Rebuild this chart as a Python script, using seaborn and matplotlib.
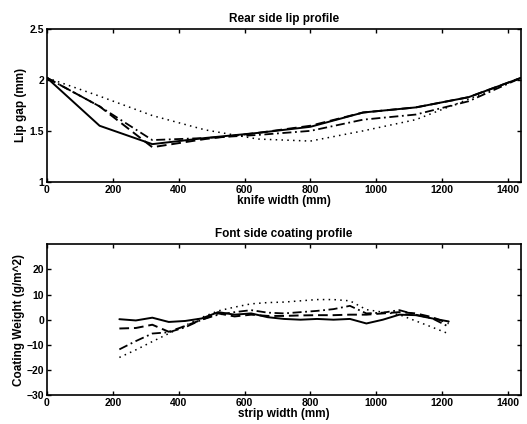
import matplotlib
matplotlib.use("Agg")
import matplotlib.pyplot as plt
import seaborn as sns

# knife (lip) profile, mm across the die
knife_x = [0, 160, 320, 480, 640, 800, 960, 1120, 1280, 1440]
lip_solid = [2.02, 1.55, 1.37, 1.43, 1.48, 1.54, 1.68, 1.73, 1.83, 2.02]
lip_dashed = [2.02, 1.74, 1.34, 1.42, 1.48, 1.55, 1.68, 1.73, 1.83, 2.02]
lip_dashdot = [2.02, 1.74, 1.41, 1.43, 1.46, 1.50, 1.61, 1.66, 1.79, 2.02]
lip_dotted = [2.02, 1.84, 1.65, 1.51, 1.42, 1.40, 1.50, 1.61, 1.81, 2.02]

# coating weight across the strip
strip_x = [220, 270, 320, 370, 420, 470, 520, 570, 620, 670, 720,
           770, 820, 870, 920, 970, 1020, 1070, 1120, 1170, 1220]
cw_solid = [0.2, -0.3, 0.8, -0.9, -0.5, 0.5, 3.0, 2.0, 2.5, 1.0, 0.3,
            0.0, 0.3, 0.0, 0.3, -1.5, 0.0, 2.0, 1.8, 0.5, -0.7]
cw_dashed = [-3.5, -3.3, -2.0, -4.8, -2.5, 0.0, 2.5, 1.3, 2.0, 1.5, 1.5,
             1.7, 1.8, 1.8, 2.0, 2.0, 2.5, 3.0, 2.5, 1.0, -1.5]
cw_dashdot = [-11.8, -8.5, -5.5, -5.0, -3.0, 0.0, 2.0, 3.0, 3.8, 2.8, 2.5,
              3.0, 3.5, 4.2, 5.5, 2.5, 2.8, 3.8, 2.0, 0.5, -2.8]
cw_dotted = [-15.0, -12.0, -8.7, -5.5, -2.3, 0.9, 3.5, 5.0, 6.3, 6.8, 7.0,
             7.5, 8.0, 8.0, 7.5, 4.0, 3.0, 2.0, -0.5, -3.0, -5.6]

sns.set_style("ticks", {"xtick.direction": "in", "ytick.direction": "in",
                        "axes.edgecolor": "black", "text.color": "black",
                        "axes.labelcolor": "black", "xtick.color": "black",
                        "ytick.color": "black"})
plt.rcParams["font.family"] = ["Liberation Sans", "DejaVu Sans"]
plt.rcParams["font.weight"] = "bold"
plt.rcParams["axes.linewidth"] = 1.2

fig = plt.figure(figsize=(5.27, 4.24), dpi=100)
ax1 = fig.add_axes([0.089, 0.571, 0.9, 0.361])
ax2 = fig.add_axes([0.089, 0.068, 0.9, 0.356])

# solid, dashed, dash-dot, dotted (MATLAB-like patterns)
styles = [
    dict(linestyle="-", linewidth=1.4),
    dict(linestyle=(0, (5, 2.5)), linewidth=1.4),
    dict(linestyle=(0, (5, 2, 1, 2)), linewidth=1.3),
    dict(linestyle=(0, (1, 2.8)), linewidth=1.1),
]

for ys, st in zip([lip_solid, lip_dashed, lip_dashdot, lip_dotted], styles):
    sns.lineplot(x=knife_x, y=ys, ax=ax1, color="k", **st)
ax1.set_xlim(0, 1440)
ax1.set_ylim(1, 2.5)
ax1.set_yticks([1, 1.5, 2, 2.5])
ax1.set_yticklabels(["1", "1.5", "2", "2.5"])
ax1.set_title("Rear side lip profile", fontsize=8.5, fontweight="bold", pad=5)
ax1.set_xlabel("knife width (mm)", fontsize=8.5, fontweight="bold", labelpad=0)
ax1.set_ylabel("Lip gap (mm)", fontsize=8.5, fontweight="bold", labelpad=2)

for ys, st in zip([cw_solid, cw_dashed, cw_dashdot, cw_dotted], styles):
    sns.lineplot(x=strip_x, y=ys, ax=ax2, color="k", **st)
ax2.set_xlim(0, 1440)
ax2.set_ylim(-30, 30)
ax2.set_yticks([-30, -20, -10, 0, 10, 20])
ax2.set_title("Font side coating profile", fontsize=8.5, fontweight="bold", pad=5)
ax2.set_xlabel("strip width (mm)", fontsize=8.5, fontweight="bold", labelpad=0)
ax2.set_ylabel("Coating Weight (g/m^2)", fontsize=8.5, fontweight="bold", labelpad=1)

for ax in (ax1, ax2):
    ax.set_xticks([0, 200, 400, 600, 800, 1000, 1200, 1400])
    ax.tick_params(axis="both", labelsize=7.5, length=3, width=1,
                   top=True, right=True, pad=2)

fig.savefig("out.png", dpi=100)
